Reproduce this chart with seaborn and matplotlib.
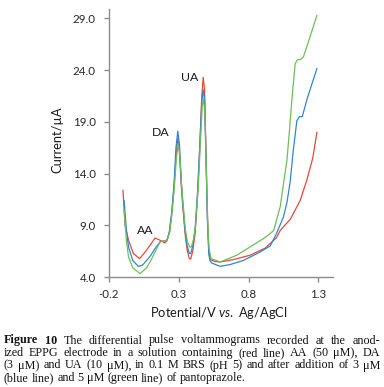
import matplotlib
matplotlib.use("Agg")
import matplotlib.pyplot as plt
import numpy as np
import pandas as pd
import seaborn as sns

# ---------------- data ----------------
red_v = [-0.10, -0.085, -0.06, -0.025, 0.02, 0.058, 0.094, 0.13, 0.166, 0.20, 0.215,
         0.232, 0.25, 0.266, 0.28, 0.293, 0.305, 0.318, 0.33, 0.345, 0.36, 0.375, 0.385,
         0.40, 0.417, 0.435, 0.45, 0.465, 0.475, 0.485, 0.495, 0.505, 0.515, 0.524,
         0.56, 0.596, 0.69, 0.81, 0.92, 1.0, 1.027, 1.10, 1.17, 1.217, 1.26, 1.29]
red_i = [12.4, 9.0, 7.55, 6.26, 5.78, 6.4, 7.07, 7.77, 7.55, 7.3, 7.5,
         8.3, 10.2, 12.7, 15.6, 17.4, 16.0, 12.8, 10.6, 8.2, 6.6, 5.8, 5.72,
         6.5, 8.2, 12.0, 16.5, 21.5, 23.3, 22.0, 16.0, 10.0, 6.6, 5.68,
         5.5, 5.45, 5.68, 6.1, 6.8, 7.8, 8.5, 9.6, 11.4, 13.35, 15.5, 18.0]

blue_v = [-0.092, -0.075, -0.06, -0.03, 0.01, 0.04, 0.07, 0.10, 0.13, 0.166, 0.214,
          0.232, 0.25, 0.266, 0.28, 0.293, 0.305, 0.318, 0.33, 0.345, 0.36, 0.375, 0.385,
          0.40, 0.417, 0.435, 0.45, 0.465, 0.475, 0.485, 0.495, 0.505, 0.515, 0.524,
          0.536, 0.596, 0.667, 0.763, 0.88, 0.955, 1.0, 1.05, 1.075, 1.098, 1.12, 1.146,
          1.165, 1.185, 1.217, 1.25, 1.29]
blue_i = [11.4, 8.5, 6.9, 5.6, 5.03, 5.15, 5.6, 6.1, 6.75, 7.4, 7.55,
          8.3, 10.3, 13.0, 16.5, 18.1, 16.8, 13.2, 10.9, 8.5, 7.0, 6.3, 6.25,
          7.0, 8.6, 12.3, 16.5, 21.0, 22.1, 21.0, 15.5, 9.5, 6.2, 5.6,
          5.35, 5.03, 5.2, 5.6, 6.4, 7.0, 8.2, 9.8, 11.2, 13.2, 16.2, 19.1,
          19.5, 19.5, 21.1, 22.5, 24.15]

green_v = [-0.092, -0.075, -0.06, -0.03, 0.022, 0.07, 0.10, 0.13, 0.166, 0.214,
           0.235, 0.252, 0.268, 0.282, 0.295, 0.307, 0.32, 0.332, 0.347, 0.362, 0.378, 0.39,
           0.405, 0.42, 0.44, 0.455, 0.468, 0.478, 0.488, 0.497, 0.507, 0.516, 0.53,
           0.596, 0.715, 0.81, 0.906, 0.955, 0.98, 1.027, 1.05, 1.075, 1.095, 1.11, 1.134,
           1.15, 1.17, 1.194, 1.24, 1.29]
green_i = [10.5, 7.5, 5.93, 4.9, 4.33, 4.9, 5.6, 6.42, 7.4, 7.55,
           8.3, 10.2, 12.6, 15.3, 16.9, 15.9, 12.9, 10.9, 8.6, 7.4, 6.9, 6.9,
           7.6, 9.0, 12.8, 17.0, 20.5, 21.2, 19.5, 14.5, 9.5, 6.9, 5.8,
           5.45, 6.1, 6.9, 7.7, 8.2, 8.5, 10.8, 13.0, 15.3, 18.5, 21.1, 24.6,
           25.0, 25.0, 25.3, 27.2, 29.3]

series_names = ["AA + DA + UA", "+ 3 µM pantoprazole", "+ 5 µM pantoprazole"]
x_ticks = [-0.2, 0.3, 0.8, 1.3]
y_ticks = [4.0, 9.0, 14.0, 19.0, 24.0, 29.0]
peak_labels = ["AA", "DA", "UA"]
peak_label_pos_v = [0.058, 0.173, 0.38]
peak_label_pos_i = [8.5, 18.0, 23.3]

caption_lines = [
    [("Figure", True), ("10", True), ("The", False), ("differential", False), ("pulse", False),
     ("voltammograms", False), ("recorded", False), ("at", False), ("the", False), ("anod-", False)],
    [(w, False) for w in "ized EPPG electrode in a solution containing (red line) AA (50 μM), DA".split(" ")],
    [(w, False) for w in "(3 μM) and UA (10 μM), in 0.1 M BRS (pH 5) and after addition of 3 μM".split(" ")],
    [(w, False) for w in "(blue line) and 5 μM (green line) of pantoprazole.".split(" ")],
]

# ---------------- build table ----------------
df = pd.concat([
    pd.DataFrame({"V": red_v, "I": red_i, "series": series_names[0]}),
    pd.DataFrame({"V": blue_v, "I": blue_i, "series": series_names[1]}),
    pd.DataFrame({"V": green_v, "I": green_i, "series": series_names[2]}),
], ignore_index=True)

colors = ["#E8473C", "#2E86D1", "#6DBE5A"]

sns.set_theme(style="ticks")
plt.rcParams["font.family"] = ["Lato", "DejaVu Sans"]
plt.rcParams["mathtext.fontset"] = "custom"
plt.rcParams["mathtext.rm"] = "Lato"
plt.rcParams["mathtext.it"] = "Lato:italic"

W, H = 384, 387
fig = plt.figure(figsize=(W / 100, H / 100), dpi=100)
fig.patch.set_facecolor("white")
ax = fig.add_axes([109 / W, 1 - 277 / H, (333 - 109) / W, (277 - 9) / H])

sns.lineplot(data=df, x="V", y="I", hue="series", palette=colors, sort=False,
             estimator=None, ax=ax, legend=False, linewidth=0.9)

ax.set_xlim(-0.2, 1.405)
ax.set_ylim(4.0, 29.9)
ax.set_xticks(x_ticks)
ax.set_xticklabels([f"{t:.1f}" for t in x_ticks])
ax.set_yticks(y_ticks)
ax.set_yticklabels([f"{t:.1f}" for t in y_ticks])
ax.set_xlabel("")
ax.set_ylabel("")
for s in ["top", "right"]:
    ax.spines[s].set_visible(False)
for s in ["left", "bottom"]:
    ax.spines[s].set_color("#8c8c8c")
    ax.spines[s].set_linewidth(1.0)
ax.tick_params(axis="both", direction="out", length=3.5, width=1.0, color="#8c8c8c",
               labelsize=8.3, labelcolor="#262626")
ax.tick_params(axis="x", pad=5.0)
ax.tick_params(axis="y", pad=6.0)

for lab, v, i in zip(peak_labels, peak_label_pos_v, peak_label_pos_i):
    ax.text(v, i, lab, ha="center", va="center", fontsize=8.8, color="#1a1a1a")

fig.text(57 / W, 1 - 140 / H, "Current/µA", rotation=90, ha="center", va="center",
         fontsize=9.3, color="#1a1a1a")
fig.text(219 / W, 1 - 313 / H, r"Potential/V $\mathit{vs.}$ Ag/AgCl", ha="center", va="center",
         fontsize=9.3, color="#1a1a1a")

# ---------------- justified caption ----------------
cap_fs = 8.7
fig.canvas.draw()
renderer = fig.canvas.get_renderer()
baselines = [343.5, 356.0, 368.5, 381.0]
x0, x1 = 4, 380
for li, (words, yb) in enumerate(zip(caption_lines, baselines)):
    arts = []
    for w, bold in words:
        t = fig.text(0, 0, w, fontfamily=["Liberation Serif", "DejaVu Serif"], fontsize=cap_fs,
                     fontweight="bold" if bold else "normal", ha="left", va="baseline",
                     color="#111111")
        arts.append(t)
    widths = [t.get_window_extent(renderer).width for t in arts]
    if li < len(caption_lines) - 1:
        gap = (x1 - x0 - sum(widths)) / (len(arts) - 1)
    else:
        gap = cap_fs * 1.389 * 0.25
    x = x0
    for t, w in zip(arts, widths):
        t.set_position((x / W, 1 - yb / H))
        x += w + gap

fig.savefig("out.png", dpi=100, facecolor="white")
